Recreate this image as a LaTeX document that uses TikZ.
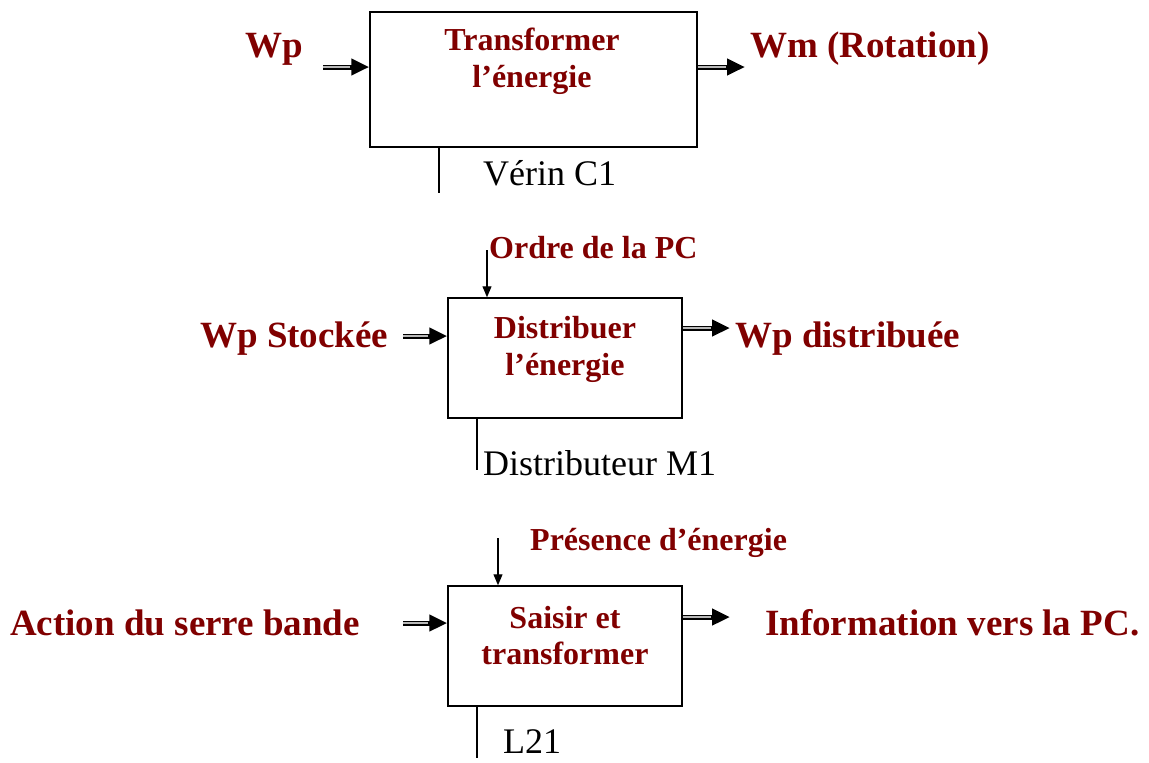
\documentclass[tikz,border=0pt]{standalone}
\usepackage{fontspec}
\setmainfont{Liberation Serif}
\usetikzlibrary{arrows.meta}
\definecolor{dred}{RGB}{128,0,0}
\begin{document}
\begin{tikzpicture}[x=1pt,y=-1pt,
 box/.style={draw, line width=1.5pt, inner sep=0pt},
 big/.style={text=dred, font=\fontsize{37}{40}\selectfont\bfseries, anchor=base west, inner sep=0pt},
 mid/.style={text=dred, font=\fontsize{32}{36}\selectfont\bfseries, anchor=base, inner sep=0pt},
 ctl/.style={text=dred, font=\fontsize{32}{36}\selectfont\bfseries, anchor=base west, inner sep=0pt},
 plain/.style={font=\fontsize{36}{40}\selectfont, anchor=base west, inner sep=0pt},
 tri/.style={line width=5pt, -{Triangle[length=18pt,width=16pt]}, postaction={draw=gray!55, line width=1.8pt, arrows=-, shorten >=19pt}},
 ctlarrow/.style={line width=1.2pt, -{Triangle[length=11pt,width=9pt]}},
 stem/.style={line width=1.5pt}]
\useasboundingbox (0,0) rectangle (1149,763);

% ---- block 1
\node[box, minimum width=327pt, minimum height=135pt] (b1) at (533.5,79.5) {};
\node[mid] (t1a) at (532,50) {Transformer};
\node[mid] (t1b) at (532,87) {l’énergie};
\node[big] (wp) at (245,57) {Wp};
\node[big] (wm) at (750,57) {Wm (Rotation)};
\coordinate (i1) at (323,67);
\coordinate (o1) at (745,67);
\draw[tri] (i1) -- (i1 -| b1.west);
\draw[tri] (o1 -| b1.east) -- (o1);
\coordinate (s1) at (439,193);
\draw[stem] (s1 |- b1.south) -- (s1);
\node[plain] (v1) at (483,185) {Vérin C1};

% ---- block 2
\node[box, minimum width=234pt, minimum height=120pt] (b2) at (565,358) {};
\node[mid] (t2a) at (565,338) {Distribuer};
\node[mid] (t2b) at (565,375) {l’énergie};
\coordinate (c2) at (487,250);
\draw[ctlarrow] (c2) -- (c2 |- b2.north);
\node[ctl] (ord) at (489,258) {Ordre de la PC};
\node[big] (ws) at (200,347) {Wp Stockée};
\node[big] (wd) at (735,347) {Wp distribuée};
\coordinate (i2) at (403,336);
\coordinate (o2) at (730,328);
\draw[tri] (i2) -- (i2 -| b2.west);
\draw[tri] (o2 -| b2.east) -- (o2);
\coordinate (s2) at (477,470);
\draw[stem] (s2 |- b2.south) -- (s2);
\node[plain] (d2) at (483,475) {Distributeur M1};

% ---- block 3
\node[box, minimum width=234pt, minimum height=120pt] (b3) at (565,646) {};
\node[mid] (t3a) at (565,628) {Saisir et};
\node[mid] (t3b) at (565,664) {transformer};
\coordinate (c3) at (498,538);
\draw[ctlarrow] (c3) -- (c3 |- b3.north);
\node[ctl] (pre) at (530,550) {Présence d’énergie};
\node[big] (act) at (10,635) {Action du serre bande};
\node[big] (inf) at (765,635) {Information vers la PC.};
\coordinate (i3) at (403,623);
\coordinate (o3) at (730,617);
\draw[tri] (i3) -- (i3 -| b3.west);
\draw[tri] (o3 -| b3.east) -- (o3);
\coordinate (s3) at (477,758);
\draw[stem] (s3 |- b3.south) -- (s3);
\node[plain] (l21) at (503,753) {L21};
\end{tikzpicture}
\end{document}
